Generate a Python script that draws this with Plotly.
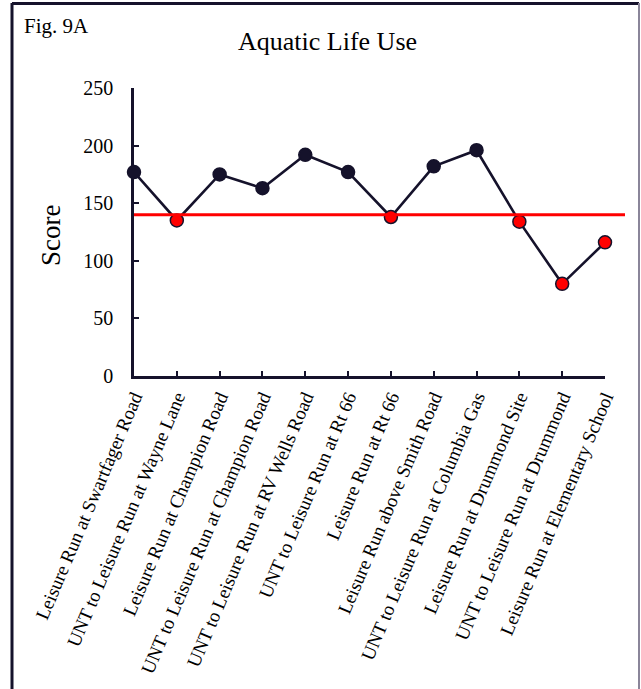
import plotly.graph_objects as go

sites = [
    "Leisure Run at Swartfager Road",
    "UNT to Leisure Run at Wayne Lane",
    "Leisure Run at Champion Road",
    "UNT to Leisure Run at Champion Road",
    "UNT to Leisure Run at RV Wells Road",
    "UNT to Leisure Run at Rt 66",
    "Leisure Run at Rt 66",
    "Leisure Run above Smith Road",
    "UNT to Leisure Run at Columbia Gas",
    "Leisure Run at Drummond Site",
    "UNT to Leisure Run at Drummond",
    "Leisure Run at Elementary School",
]
scores = [177, 135, 175, 163, 192, 177, 138, 182, 196, 134, 80, 116]
threshold = 140
y_ticks = [0, 50, 100, 150, 200, 250]

DARK = "#15122b"
RED = "#ff0000"
FONT = "Liberation Serif"

# plot-area pixel geometry
W, H = 641, 689
L, R, T, B = 134, 605, 88, 376
def px(x):
    return (x - L) / (R - L)
def py(y):
    return (B - y) / (B - T)

xs = list(range(len(sites)))
marker_colors = [RED if s < threshold else DARK for s in scores]

fig = go.Figure()
fig.add_trace(go.Scatter(
    x=xs, y=scores, mode="lines",
    line=dict(color=DARK, width=2.6),
    hoverinfo="skip", showlegend=False, cliponaxis=False,
))
fig.add_trace(go.Scatter(
    x=xs, y=scores, mode="markers",
    marker=dict(size=13, color=marker_colors, line=dict(color=DARK, width=1.5)),
    text=sites, showlegend=False, cliponaxis=False,
))

fig.update_layout(
    width=W, height=H,
    margin=dict(l=L, r=W - R, t=T, b=H - B, pad=0),
    paper_bgcolor="white", plot_bgcolor="white",
    font=dict(family=FONT, color="black"),
    showlegend=False,
    xaxis=dict(
        range=[0, len(sites) - 1],
        tickmode="array", tickvals=xs, ticktext=sites,
        tickangle=-67, tickfont=dict(size=19, family=FONT, color="black"),
        ticks="inside", ticklen=5, tickwidth=2, tickcolor=DARK,
        showline=True, linecolor=DARK, linewidth=2.5,
        showgrid=False, zeroline=False,
    ),
    yaxis=dict(
        range=[0, 250],
        tickmode="array", tickvals=y_ticks,
        tickfont=dict(size=20, family=FONT, color="black"),
        ticks="inside", ticklen=5, tickwidth=2, tickcolor=DARK,
        showline=True, linecolor=DARK, linewidth=2.5,
        showgrid=False, zeroline=False,
        ticklabelstandoff=14,
    ),
)

# threshold line (drawn above markers, extends past last point)
fig.add_shape(type="line", xref="paper", yref="y",
              x0=0, x1=px(625), y0=threshold, y1=threshold,
              line=dict(color=RED, width=3), layer="above")

# figure border
fig.add_shape(type="line", xref="paper", yref="paper",
              x0=px(12), x1=px(12), y0=py(3), y1=py(700),
              line=dict(color=DARK, width=3), layer="above")
fig.add_shape(type="line", xref="paper", yref="paper",
              x0=px(12), x1=px(639), y0=py(3.5), y1=py(3.5),
              line=dict(color=DARK, width=3), layer="above")
fig.add_shape(type="line", xref="paper", yref="paper",
              x0=px(639), x1=px(639), y0=py(3), y1=py(700),
              line=dict(color="#8a8599", width=2), layer="above")

fig.add_annotation(text="Fig. 9A", xref="paper", yref="paper",
                   x=px(22), y=py(26), xanchor="left", yanchor="middle",
                   showarrow=False, font=dict(size=21, family=FONT, color="black"))
fig.add_annotation(text="Aquatic Life Use", xref="paper", yref="paper",
                   x=px(327), y=py(41), xanchor="center", yanchor="middle",
                   showarrow=False, font=dict(size=26, family=FONT, color="black"))
fig.add_annotation(text="Score", xref="paper", yref="paper",
                   x=px(51), y=py(236), xanchor="center", yanchor="middle",
                   textangle=-90,
                   showarrow=False, font=dict(size=27, family=FONT, color="black"))

fig.write_html("out.html",
               config={"displayModeBar": False},
               post_script="document.body.style.margin='0';document.body.style.overflow='hidden';")
